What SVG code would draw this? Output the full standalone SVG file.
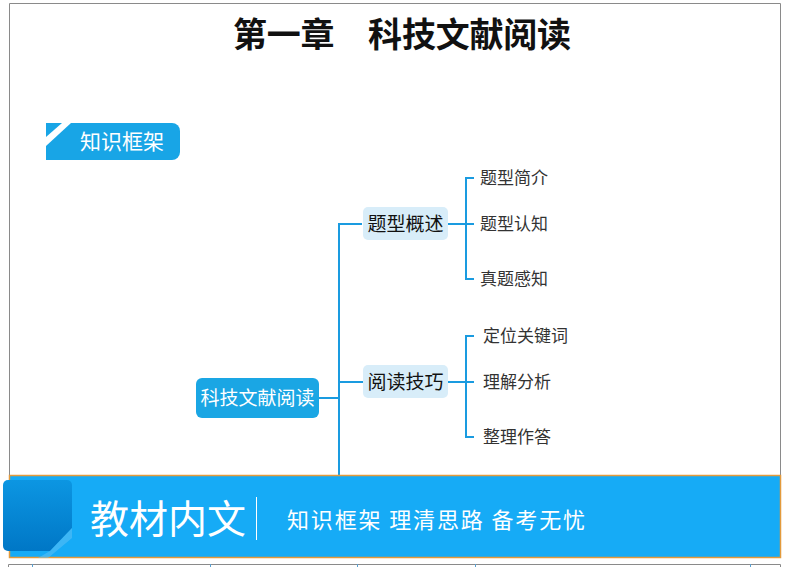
<svg xmlns="http://www.w3.org/2000/svg" width="790" height="567" viewBox="0 0 790 567">
<defs>
<linearGradient id="tabg" x1="0" y1="0" x2="0" y2="1">
<stop offset="0" stop-color="#0c96e2"/>
<stop offset="1" stop-color="#0077c6"/>
</linearGradient>
<style>
.cjk{font-family:"Noto Sans CJK SC","Noto Sans",sans-serif}
.conn{fill:none;stroke:#1a9be0;stroke-width:2}
.sub{fill:#d8edf9}
.subt{font-size:19px;fill:#111}
.leaf{font-size:17px;fill:#333}
.frame{fill:none;stroke:#8a8a8a;stroke-width:1}
</style>
</defs>
<rect width="790" height="567" fill="#ffffff"/>
<path class="frame" d="M9.5 476 V3.5 H780.5 V476"/>

<g id="title">
<text class="cjk" x="402" y="47" font-size="34" font-weight="bold" fill="#111" text-anchor="middle" textLength="338" lengthAdjust="spacing">第一章　科技文献阅读</text>
</g>

<g id="section-tab">
<path d="M46 123 H172 A8 8 0 0 1 180 131 V152 A8 8 0 0 1 172 160 H46 Z" fill="#18a5e6"/>
<polygon points="62,123 71,123 46,146 46,137" fill="#ffffff"/>
<text class="cjk" x="122" y="149" font-size="21" fill="#ffffff" text-anchor="middle">知识框架</text>
</g>

<g id="connectors">
<path class="conn" d="M319 398 H339"/>
<path class="conn" d="M362 224 H339 V476"/>
<path class="conn" d="M339 382 H363"/>
<path class="conn" d="M448 224 H474"/>
<path class="conn" d="M474 178 H466 V279 H474"/>
<path class="conn" d="M448 382 H474"/>
<path class="conn" d="M474 336 H466 V437 H474"/>
</g>

<g id="root">
<rect x="196" y="378" width="123" height="40" rx="6" fill="#1aa6e4"/>
<text class="cjk" x="257.5" y="405" font-size="19" fill="#ffffff" text-anchor="middle">科技文献阅读</text>
</g>

<g id="node-tixing">
<rect class="sub" x="363" y="207" width="85" height="33" rx="5"/>
<text class="cjk subt" x="405.5" y="230.5" text-anchor="middle">题型概述</text>
</g>
<g id="node-yuedu">
<rect class="sub" x="363" y="365" width="85" height="33" rx="5"/>
<text class="cjk subt" x="405.5" y="388.5" text-anchor="middle">阅读技巧</text>
</g>

<g id="leaf-1"><text class="cjk leaf" x="480" y="184">题型简介</text></g>
<g id="leaf-2"><text class="cjk leaf" x="480" y="230">题型认知</text></g>
<g id="leaf-3"><text class="cjk leaf" x="480" y="285">真题感知</text></g>
<g id="leaf-4"><text class="cjk leaf" x="483" y="342">定位关键词</text></g>
<g id="leaf-5"><text class="cjk leaf" x="483" y="388">理解分析</text></g>
<g id="leaf-6"><text class="cjk leaf" x="483" y="443">整理作答</text></g>

<g id="banner">
<rect x="9.5" y="475.5" width="771" height="82" fill="#16abf6" stroke="#e39a3c" stroke-width="1.5"/>
<path d="M8 480 H67 A5 5 0 0 1 72 485 V528 L50 551 H8 A5 5 0 0 1 3 546 V485 A5 5 0 0 1 8 480 Z" fill="url(#tabg)"/>
<polygon points="72,528 72,538 48,558 38,558 50,551" fill="#5ec0f4" opacity="0.55"/>
<text class="cjk" x="90" y="533" font-size="39" fill="#ffffff">教材内文</text>
<line x1="256.5" y1="497" x2="256.5" y2="540" stroke="#ffffff" stroke-width="1"/>
<text class="cjk" x="287" y="528" font-size="22" fill="#ffffff" textLength="298" lengthAdjust="spacing">知识框架 理清思路 备考无忧</text>
</g>

<g id="bottom-strip">
<path d="M8.5 567 V564.5 H780.5 V567" fill="none" stroke="#8a8a8a" stroke-width="1"/>
<path d="M32.5 564 V567 M210.5 564 V567 M357.5 564 V567 M475.5 564 V567 M750.5 564 V567" stroke="#5a9fd0" stroke-width="1"/>
</g>
</svg>
